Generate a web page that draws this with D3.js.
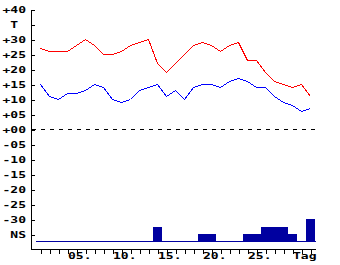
<!DOCTYPE html>
<html>
<head>
<meta charset="utf-8">
<script src="https://cdn.jsdelivr.net/npm/d3@7"></script>
<style>
  body { margin: 0; background: #fff; }
  svg { display: block; }
  .lbl { font-family: "DejaVu Sans Mono", monospace; font-weight: bold; font-size: 9px; fill: #000; white-space: pre; }
</style>
</head>
<body>
<div id="chart"></div>
<script>
// days of the month
var days = d3.range(1, 32);

// daily max / min temperature
var tMax = [27,26,26,26,28,30,28,25,25,26,28,29,30,22,19,22,25,28,29,28,26,28,29,23,23,19,16,15,14,15,11];
var tMin = [15,11,10,12,12,13,15,14,10,9,10,13,14,15,11,13,10,14,15,15,14,16,17,16,14,14,11,9,8,6,7];

// precipitation (relative units) per day
var rain = [0,0,0,0,0,0,0,0,0,0,0,0,0,2,0,0,0,0,1,1,0,0,0,1,1,2,2,2,1,0,3];

// axis labels
var yTickVals = [40,35,30,25,20,15,10,5,0,-5,-10,-15,-20,-25,-30,-35];
var yTickText = ["+40"," T ","+30","+25","+20","+15","+10","+05","+00","-05","-10","-15","-20","-25","-30"," NS"];
var xTickVals = [5,10,15,20,25,30];
var xTickText = ["05.","10.","15.","20.","25.","Tag"];

var W = 340, H = 265;

var svg = d3.select("#chart").append("svg")
  .attr("width", W)
  .attr("height", H);

var x = d3.scaleLinear().domain([1,31]).range([40.5,310.5]);
var y = d3.scaleLinear().domain([-40,40]).range([249.5,9.5]);
var yRain = d3.scaleLinear().domain([0,3]).range([242,219]);

var axisX = 30.5;

// precipitation bars
svg.append("g").selectAll("rect")
  .data(days.filter(function(d){ return rain[d-1] > 0; }))
  .enter().append("rect")
  .attr("x", function(d){ return x(d) - 4.5; })
  .attr("width", 9)
  .attr("y", function(d){ return yRain(rain[d-1]); })
  .attr("height", function(d){ return yRain(0) - yRain(rain[d-1]); })
  .attr("fill", "#0000a0")
  .attr("shape-rendering", "crispEdges");

// precipitation base line
svg.append("line")
  .attr("x1", 36).attr("x2", x(31) + 5)
  .attr("y1", yRain(0) - 0.5).attr("y2", yRain(0) - 0.5)
  .attr("stroke", "#0000a0")
  .attr("shape-rendering", "crispEdges");

// zero line
svg.append("line")
  .attr("x1", 32).attr("x2", x(31) + 5)
  .attr("y1", y(0)).attr("y2", y(0))
  .attr("stroke", "#000")
  .attr("stroke-dasharray", "4,5")
  .attr("shape-rendering", "crispEdges");

// temperature lines
var line = d3.line()
  .x(function(d){ return x(d.day); })
  .y(function(d){ return y(d.v); });

[[tMax, "#ff0000"], [tMin, "#0000ff"]].forEach(function(s){
  svg.append("path")
    .datum(days.map(function(d){ return {day: d, v: s[0][d-1]}; }))
    .attr("d", line)
    .attr("fill", "none")
    .attr("stroke", s[1])
    .attr("stroke-width", 1)
    .attr("shape-rendering", "crispEdges");
});

// y axis: ticks point inward
var yAxis = d3.axisRight(y)
  .tickValues(yTickVals)
  .tickSize(4)
  .tickSizeOuter(0)
  .tickFormat("");

svg.append("g")
  .attr("transform", "translate(" + axisX + ",0)")
  .call(yAxis)
  .call(function(g){ g.selectAll("path,line").attr("stroke", "#000").attr("shape-rendering", "crispEdges"); });

svg.append("g").selectAll("text")
  .data(yTickVals)
  .enter().append("text")
  .attr("class", "lbl")
  .attr("transform", function(d){ return "translate(2.5," + (y(d) + 3.3) + ") scale(1.45,1)"; })
  .text(function(d, i){ return yTickText[i]; });

// x axis
var xAxis = d3.axisBottom(x)
  .tickValues(days)
  .tickSize(4)
  .tickSizeOuter(0)
  .tickFormat("");

var gx = svg.append("g")
  .attr("transform", "translate(0," + y(-40) + ")")
  .call(xAxis);
gx.select(".domain").attr("d", "M" + axisX + ",0H" + (x(31) + 5));
gx.selectAll("path,line").attr("stroke", "#000").attr("shape-rendering", "crispEdges");

svg.append("g").selectAll("text")
  .data(xTickVals)
  .enter().append("text")
  .attr("class", "lbl")
  .attr("transform", function(d){ return "translate(" + (x(d) - 8.5) + ",258.5) scale(1.45,1)"; })
  .text(function(d, i){ return xTickText[i]; });
</script>
</body>
</html>
